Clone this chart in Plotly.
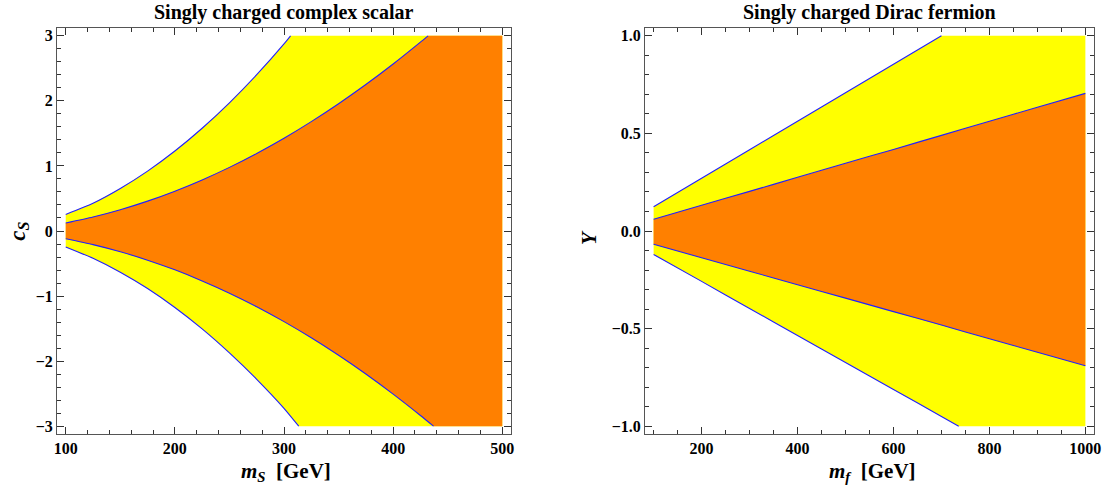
import plotly.graph_objects as go

# ---------------- Left panel: singly charged complex scalar ----------------
s_xlim = [100, 500]
s_ylim = [-3, 3]

s_up_out_x = [100, 125, 150, 175, 200, 225, 250, 275, 300, 306]
s_up_out_y = [0.255, 0.426, 0.653, 0.920, 1.229, 1.579, 1.970, 2.402, 2.875, 3.0]

s_lo_out_x = [100, 125, 150, 175, 200, 225, 250, 275, 300, 313.5]
s_lo_out_y = [-0.245, -0.419, -0.633, -0.884, -1.175, -1.504, -1.873, -2.279, -2.725, -3.0]

s_up_in_x = [100, 125, 150, 175, 200, 225, 250, 275, 300, 325, 350, 375, 400, 425, 432]
s_up_in_y = [0.123, 0.215, 0.327, 0.459, 0.612, 0.785, 0.978, 1.192, 1.426, 1.681, 1.956, 2.251, 2.566, 2.902, 3.0]

s_lo_in_x = [100, 125, 150, 175, 200, 225, 250, 275, 300, 325, 350, 375, 400, 425, 437]
s_lo_in_y = [-0.120, -0.210, -0.319, -0.448, -0.597, -0.767, -0.955, -1.164, -1.393, -1.641, -1.910, -2.198, -2.507, -2.835, -3.0]

# ---------------- Right panel: singly charged Dirac fermion ----------------
f_xlim = [100, 1000]
f_ylim = [-1, 1]

f_up_out_x = [100, 200, 300, 400, 500, 600, 700]
f_up_out_y = [0.124, 0.270, 0.416, 0.562, 0.708, 0.854, 1.0]

f_lo_out_x = [100, 200, 300, 400, 500, 600, 700, 736]
f_lo_out_y = [-0.120, -0.258, -0.397, -0.535, -0.674, -0.812, -0.950, -1.0]

f_up_in_x = [100, 200, 300, 400, 500, 600, 700, 800, 900, 1000]
f_up_in_y = [0.060, 0.132, 0.203, 0.275, 0.347, 0.418, 0.490, 0.562, 0.634, 0.705]

f_lo_in_x = [100, 200, 300, 400, 500, 600, 700, 800, 900, 1000]
f_lo_in_y = [-0.068, -0.137, -0.206, -0.275, -0.344, -0.413, -0.482, -0.552, -0.621, -0.690]

titles = ["Singly charged complex scalar", "Singly charged Dirac fermion"]
x_titles = ["<i>m<sub>S</sub></i>  [GeV]", "<i>m<sub>f</sub></i>  [GeV]"]
y_titles = ["<i>c<sub>S</sub></i>", "<i>Y</i>"]

YELLOW = "#FFFF00"
ORANGE = "#FF8000"
BLUE = "#2020FF"
FONT = "Liberation Serif, Times New Roman, serif"

fig = go.Figure()


def region(xs_up, ys_up, xs_lo, ys_lo, xlim, ylim, color, xa, ya):
    # polygon: upper curve -> top-right corner -> bottom-right corner -> lower curve reversed
    px = list(xs_up) + [xlim[1], xlim[1]] + list(xs_lo)[::-1]
    py = list(ys_up) + [ylim[1], ylim[0]] + list(ys_lo)[::-1]
    fig.add_trace(go.Scatter(x=px, y=py, fill="toself", fillcolor=color, mode="lines",
                             line=dict(width=0, color=color), xaxis=xa, yaxis=ya,
                             hoverinfo="skip", showlegend=False))


def curve(xs, ys, xa, ya):
    fig.add_trace(go.Scatter(x=xs, y=ys, mode="lines", line=dict(color=BLUE, width=1.1, shape="spline", smoothing=0.6),
                             xaxis=xa, yaxis=ya, hoverinfo="skip", showlegend=False))


region(s_up_out_x, s_up_out_y, s_lo_out_x, s_lo_out_y, s_xlim, s_ylim, YELLOW, "x", "y")
region(s_up_in_x, s_up_in_y, s_lo_in_x, s_lo_in_y, s_xlim, s_ylim, ORANGE, "x", "y")
for xs, ys in [(s_up_out_x, s_up_out_y), (s_lo_out_x, s_lo_out_y),
               (s_up_in_x, s_up_in_y), (s_lo_in_x, s_lo_in_y)]:
    curve(xs, ys, "x", "y")

region(f_up_out_x, f_up_out_y, f_lo_out_x, f_lo_out_y, f_xlim, f_ylim, YELLOW, "x2", "y2")
region(f_up_in_x, f_up_in_y, f_lo_in_x, f_lo_in_y, f_xlim, f_ylim, ORANGE, "x2", "y2")
for xs, ys in [(f_up_out_x, f_up_out_y), (f_lo_out_x, f_lo_out_y),
               (f_up_in_x, f_up_in_y), (f_lo_in_x, f_lo_in_y)]:
    curve(xs, ys, "x2", "y2")

tickfont = dict(family=FONT, size=16, color="black", weight="bold")
common = dict(showgrid=False, zeroline=False, showline=True, linecolor="#555555", linewidth=1,
              mirror="allticks", ticks="inside", ticklen=7, tickcolor="#333333",
              tickfont=tickfont, automargin=False)


def pad(lim):
    d = 0.02 * (lim[1] - lim[0])
    return [lim[0] - d, lim[1] + d]


def ann(text, x, y, size, angle=0, yshift=0):
    return dict(text=text, x=x, y=y, xref="paper", yref="paper", xanchor="center",
                yanchor="middle", yshift=yshift, textangle=angle, showarrow=False,
                font=dict(family=FONT, size=size, color="black", weight="bold"))


fig.update_layout(
    width=1105, height=490,
    paper_bgcolor="white", plot_bgcolor="white",
    margin=dict(l=57, r=11, t=28, b=56),
    xaxis=dict(domain=[0, 0.4378], range=pad(s_xlim), tickmode="linear", tick0=100, dtick=100,
               minor=dict(ticks="inside", ticklen=4, dtick=20, tick0=100, tickcolor="#333333"),
               **common),
    yaxis=dict(domain=[0, 1], range=pad(s_ylim), tickmode="linear", tick0=-3, dtick=1,
               minor=dict(ticks="inside", ticklen=4, dtick=0.2, tick0=0, tickcolor="#333333"),
               **common),
    xaxis2=dict(domain=[0.567, 1], range=pad(f_xlim), tickmode="linear", tick0=200, dtick=200,
                minor=dict(ticks="inside", ticklen=4, dtick=50, tick0=0, tickcolor="#333333"),
                anchor="y2", **common),
    yaxis2=dict(domain=[0, 1], range=pad(f_ylim), tickmode="linear", tick0=-1, dtick=0.5,
                tickformat=".1f",
                minor=dict(ticks="inside", ticklen=4, dtick=0.1, tick0=0, tickcolor="#333333"),
                anchor="x2", **common),
    annotations=[
        ann(titles[0], 0.2189, 1.0, 20, yshift=16),
        ann(titles[1], 0.7835, 1.0, 20, yshift=16),
        ann(x_titles[0], 0.2208, -0.0925, 21),
        ann(x_titles[1], 0.786, -0.0925, 21),
        ann(y_titles[0], -0.037, 0.5, 23, angle=-90),
        ann(y_titles[1], 0.513, 0.485, 21, angle=-90),
    ],
)

fig.write_html("out.html", config={"displayModeBar": False},
               post_script="document.body.style.margin='0px';")
